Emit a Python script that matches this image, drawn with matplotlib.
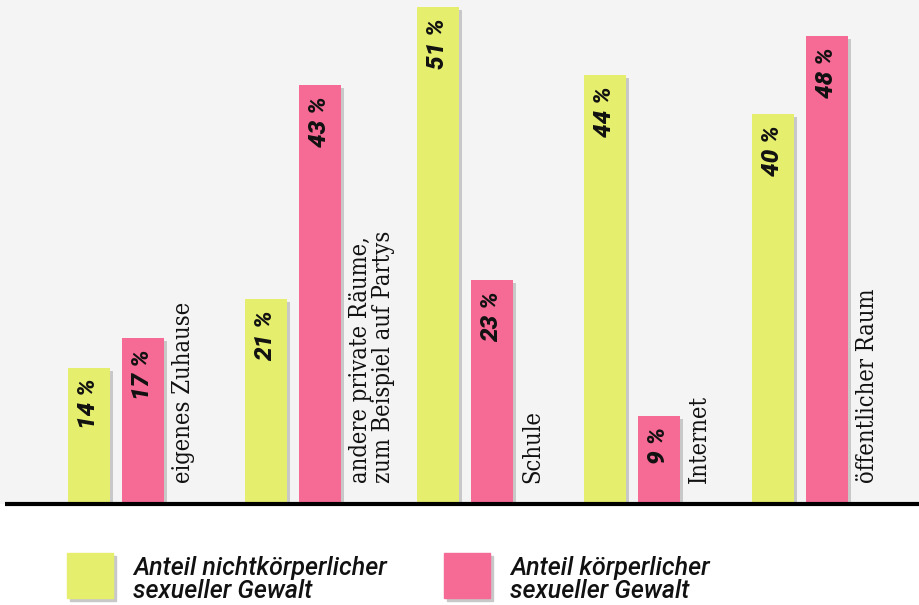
"""Anteil sexueller Gewalt nach Ort - Säulendiagramm."""

import matplotlib
matplotlib.use("Agg")
import matplotlib.pyplot as plt
from matplotlib.patches import Rectangle

categories = [
    "eigenes Zuhause",
    "andere private Räume,\nzum Beispiel auf Partys",
    "Schule",
    "Internet",
    "öffentlicher Raum",
]
nonphysical = [14, 21, 51, 44, 40]
physical = [17, 43, 23, 9, 48]
series_labels = [
    "Anteil nichtkörperlicher\nsexueller Gewalt",
    "Anteil körperlicher\nsexueller Gewalt",
]

YELLOW = "#e6ee6e"
PINK = "#f66a96"
SHADOW = "#c8c8c8"
BG = "#f4f4f4"


def main() -> None:
    W, H = 920, 605
    base = 504          # pixel row of the baseline
    px_per_pct = 9.75

    fig = plt.figure(figsize=(W / 100, H / 100), dpi=100, facecolor="white")
    ax = fig.add_axes([0, (H - base) / H, 1, base / H])
    ax.set_facecolor(BG)
    ax.set_xlim(0, W)
    ax.set_ylim(0, base / px_per_pct)
    ax.axis("off")
    ax.add_patch(Rectangle((0, 0), 1, 1, transform=ax.transAxes, color=BG, zorder=0))

    # layout: left edge of each group, bar width and gap (pixels)
    group_left = [68, 245, 417, 584, 752]
    bw = 42
    step = 54
    sh = 3      # shadow offset in px
    sh_y = sh / px_per_pct

    x_y = [g for g in group_left]
    x_p = [g + step for g in group_left]

    for xs, vals, col in [(x_y, nonphysical, YELLOW), (x_p, physical, PINK)]:
        ax.bar([x + sh for x in xs], [v - sh_y for v in vals], width=bw,
               align="edge", color=SHADOW, zorder=1)
        ax.bar(xs, vals, width=bw, align="edge", color=col, zorder=2)
        for x, v in zip(xs, vals):
            ax.annotate(f"{v} %", (x + bw / 2, v), xytext=(0, -8),
                        textcoords="offset points", rotation=90,
                        rotation_mode="anchor", ha="right", va="center",
                        fontsize=17.5, fontfamily="Roboto", fontweight="heavy",
                        fontstyle="italic", color="#111111", zorder=3)

    for x, lab in zip(x_p, categories):
        ax.text(x + bw + 8, 21 / px_per_pct, lab, rotation=90,
                rotation_mode="anchor", ha="left", va="top",
                multialignment="left", fontsize=17, fontfamily="DejaVu Serif",
                fontstretch="condensed", color="#111111", linespacing=1.0,
                zorder=3)

    ax.plot([5, W], [0, 0], color="black", lw=3, solid_capstyle="butt",
            clip_on=False, zorder=5)

    # legend drawn in pixel coordinates
    lax = fig.add_axes([0, 0, 1, (H - base) / H])
    lax.set_xlim(0, W)
    lax.set_ylim(H, base)
    lax.axis("off")
    for lx, col, lab in [(67, YELLOW, series_labels[0]),
                         (444, PINK, series_labels[1])]:
        lax.add_patch(Rectangle((lx + sh, 553 + sh), 46, 45, color=SHADOW))
        lax.add_patch(Rectangle((lx, 553), 46, 45, color=col))
        lax.text(lx + 66, 556, lab, ha="left", va="top", fontsize=18,
                 fontfamily="Roboto", fontweight="medium", fontstyle="italic",
                 color="#111111", linespacing=0.95)

    fig.savefig("out.png", dpi=100, facecolor="white")


if __name__ == "__main__":
    main()
